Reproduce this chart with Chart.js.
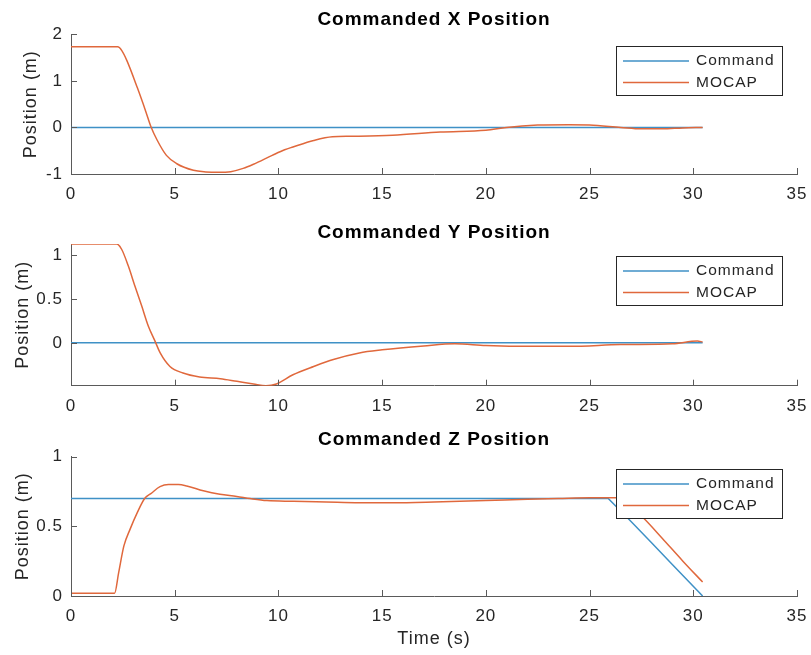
<!DOCTYPE html>
<html>
<head>
<meta charset="utf-8">
<script src="https://cdn.jsdelivr.net/npm/chart.js@4.4.1/dist/chart.umd.min.js"></script>
<style>
  html, body { margin: 0; padding: 0; background: #fff; overflow: hidden; }
  #wrap { position: relative; width: 811px; height: 655px; }
  .panel { position: absolute; left: 0; }
</style>
</head>
<body>
<div id="wrap">
  <canvas id="cx" class="panel" style="top:0px"></canvas>
  <canvas id="cy" class="panel" style="top:211px"></canvas>
  <canvas id="cz" class="panel" style="top:422px"></canvas>
</div>
<script>
// ---- tick labels ----
const timeTicks = [0, 5, 10, 15, 20, 25, 30, 35];
const xPosTicks = [-1, 0, 1, 2];
const yPosTicks = [0, 0.5, 1];
const zPosTicks = [0, 0.5, 1];

// ---- series names and titles ----
const seriesNames = ['Command', 'MOCAP'];
const titles = ['Commanded X Position', 'Commanded Y Position', 'Commanded Z Position'];
const xAxisTitle = 'Time (s)';
const yAxisTitle = 'Position (m)';

// ---- X position (m) ----
const cmdXTime = [0, 30.45];
const cmdXVal  = [0, 0];
const mocapXTime = [0, 2.25, 2.45, 2.7, 3.2, 3.6, 3.85, 4.15, 4.6, 5.1, 5.9, 6.5, 7.1, 7.7, 8.3, 8.8, 9.7, 10.3, 10.7, 11.7, 12.6, 13.5, 15.5, 17.8, 20.0, 21.0, 22.5, 24.0, 25.0, 26.5, 27.5, 28.5, 29.5, 30.45];
const mocapXVal  = [1.73, 1.73, 1.65, 1.43, 0.85, 0.35, 0.02, -0.27, -0.6, -0.78, -0.92, -0.955, -0.965, -0.95, -0.88, -0.79, -0.6, -0.48, -0.42, -0.28, -0.2, -0.19, -0.17, -0.1, -0.06, 0.0, 0.05, 0.06, 0.05, 0.0, -0.03, -0.03, -0.01, 0.0];

// ---- Y position (m) ----
const cmdYTime = [0, 30.45];
const cmdYVal  = [0, 0];
const mocapYTime = [0, 2.2, 2.44, 2.76, 3.08, 3.41, 3.73, 4.05, 4.3, 4.77, 5.4, 6.2, 7.2, 8.0, 8.8, 9.4, 9.9, 10.7, 11.7, 12.65, 13.9, 15.0, 17.0, 18.5, 20.0, 22.3, 24.0, 26.5, 29.0, 30.2, 30.45];
const mocapYVal  = [1.13, 1.13, 1.07, 0.88, 0.65, 0.42, 0.19, 0.02, -0.115, -0.27, -0.345, -0.39, -0.41, -0.44, -0.47, -0.49, -0.47, -0.365, -0.27, -0.19, -0.115, -0.08, -0.035, -0.01, -0.03, -0.04, -0.04, -0.02, -0.01, 0.02, 0.01];

// ---- Z position (m) ----
const cmdZTime = [0, 25.9, 27.0, 28.0, 29.0, 30.45];
const cmdZVal  = [0.7, 0.7, 0.535, 0.38, 0.225, 0.0];
const mocapZTime = [0, 2.1, 2.3, 2.55, 2.85, 3.2, 3.55, 3.85, 4.29, 4.7, 5.18, 5.58, 6.38, 7.18, 7.99, 8.63, 9.44, 10.72, 12.3, 13.9, 15.5, 17.5, 20.0, 22.0, 23.5, 25.0, 26.3, 26.8, 27.6, 28.5, 29.5, 30.45];
const mocapZVal  = [0.02, 0.02, 0.17, 0.36, 0.48, 0.6, 0.7, 0.735, 0.785, 0.80, 0.80, 0.79, 0.755, 0.73, 0.715, 0.70, 0.685, 0.68, 0.675, 0.67, 0.67, 0.675, 0.685, 0.695, 0.70, 0.705, 0.705, 0.67, 0.56, 0.415, 0.25, 0.10];

// ---- styling ----
const FONT = '"Liberation Sans", Arial, Helvetica, sans-serif';
const CMD_COLOR = '#3f91c6';
const MOCAP_COLOR = '#e0683c';
const AXIS_COLOR = '#5a5a5a';
const TEXT_COLOR = '#262626';

Chart.defaults.font.family = FONT;

const pts = (t, v) => t.map((x, i) => ({ x: x, y: v[i] }));
const fmt = v => String(Number(Number(v).toFixed(2)));

// slightly spaced lettering for all chart text
const spacing = {
  id: 'spacing',
  beforeDraw(chart) { chart.ctx.letterSpacing = '1px'; }
};

// tick marks pointing into the axes
const innerTicks = {
  id: 'innerTicks',
  afterDraw(chart) {
    const { ctx, chartArea: ca } = chart;
    const xs = chart.scales.x, ys = chart.scales.y;
    ctx.save();
    ctx.strokeStyle = AXIS_COLOR;
    ctx.lineWidth = 1;
    ctx.beginPath();
    xs.ticks.forEach(t => {
      const px = Math.round(xs.getPixelForValue(t.value)) + 0.5;
      ctx.moveTo(px, ca.bottom);
      ctx.lineTo(px, ca.bottom - 6);
    });
    ys.ticks.forEach(t => {
      const py = Math.round(ys.getPixelForValue(t.value)) + 0.5;
      ctx.moveTo(ca.left, py);
      ctx.lineTo(ca.left + 6, py);
    });
    ctx.stroke();
    ctx.restore();
  }
};

// boxed legend in the upper right corner of the axes
const boxLegend = {
  id: 'boxLegend',
  afterDatasetsDraw(chart) {
    const { ctx, chartArea: ca } = chart;
    const w = 166, h = 49;
    const x0 = Math.round(ca.right - 15 - w), y0 = Math.round(ca.top + 12);
    ctx.save();
    ctx.fillStyle = '#fff';
    ctx.fillRect(x0, y0, w, h);
    ctx.strokeStyle = '#262626';
    ctx.lineWidth = 1;
    ctx.strokeRect(x0 + 0.5, y0 + 0.5, w, h);
    chart.data.datasets.forEach((ds, row) => {
      const yy = y0 + 15 + row * 21.5;
      ctx.strokeStyle = ds.borderColor;
      ctx.lineWidth = ds.borderWidth;
      ctx.beginPath();
      ctx.moveTo(x0 + 7, yy);
      ctx.lineTo(x0 + 73, yy);
      ctx.stroke();
      ctx.fillStyle = TEXT_COLOR;
      ctx.font = '15.5px ' + FONT;
      ctx.textBaseline = 'middle';
      ctx.textAlign = 'left';
      ctx.fillText(ds.label, x0 + 80, yy);
    });
    ctx.restore();
  }
};

const panels = [
  { id: 'cx', height: 211, title: titles[0], cmd: pts(cmdXTime, cmdXVal), mocap: pts(mocapXTime, mocapXVal),
    yMin: -1, yMax: 2, yTicks: xPosTicks, titlePad: { top: 7.9, bottom: 3.6 }, xAxisH: 37, showXTitle: false, yTitlePad: 20.2 },
  { id: 'cy', height: 211, title: titles[1], cmd: pts(cmdYTime, cmdYVal), mocap: pts(mocapYTime, mocapYVal),
    yMin: -0.49, yMax: 1.13, yTicks: yPosTicks, titlePad: { top: 10.2, bottom: 0 }, xAxisH: 36.3, showXTitle: false, yTitlePad: 12 },
  { id: 'cz', height: 233, title: titles[2], cmd: pts(cmdZTime, cmdZVal), mocap: pts(mocapZTime, mocapZVal),
    yMin: 0, yMax: 1, yTicks: zPosTicks, titlePad: { top: 5.9, bottom: 6.0 }, xAxisH: 59, showXTitle: true, yTitlePad: 12 }
];

panels.forEach(p => {
  const canvas = document.getElementById(p.id);
  canvas.width = 811;
  canvas.height = p.height;
  canvas.style.width = '811px';
  canvas.style.height = p.height + 'px';

  new Chart(canvas, {
    type: 'line',
    data: {
      datasets: [
        { label: seriesNames[0], data: p.cmd, borderColor: CMD_COLOR, borderWidth: 1.5,
          pointRadius: 0, fill: false, tension: 0, order: 1 },
        { label: seriesNames[1], data: p.mocap, borderColor: MOCAP_COLOR, borderWidth: 1.5,
          pointRadius: 0, fill: false, cubicInterpolationMode: 'monotone', order: 0 }
      ]
    },
    options: {
      responsive: false,
      animation: false,
      events: [],
      layout: { padding: { left: 0, right: 14, top: 0, bottom: 0 } },
      plugins: {
        legend: { display: false },
        tooltip: { enabled: false },
        title: {
          display: true, text: p.title, fullSize: false, color: '#000',
          font: { size: 19, weight: 'bold', family: FONT, lineHeight: 1.2 },
          padding: p.titlePad
        }
      },
      scales: {
        x: {
          type: 'linear', min: 0, max: 35,
          grid: { display: false, drawTicks: false },
          border: { display: true, color: AXIS_COLOR, width: 1 },
          ticks: { padding: 10, color: TEXT_COLOR, font: { size: 17 }, maxRotation: 0, autoSkip: false, callback: fmt },
          afterBuildTicks: s => { s.ticks = timeTicks.map(v => ({ value: v })); },
          afterFit: s => { s.height = p.xAxisH; s.paddingLeft = 0; s.paddingRight = 0; },
          title: {
            display: p.showXTitle, text: xAxisTitle, color: TEXT_COLOR,
            font: { size: 18, lineHeight: 1.2 }, padding: { top: 0, bottom: 5.2 }
          }
        },
        y: {
          type: 'linear', min: p.yMin, max: p.yMax,
          grid: { display: false, drawTicks: false },
          border: { display: true, color: AXIS_COLOR, width: 1 },
          ticks: { padding: 8, color: TEXT_COLOR, font: { size: 17 }, autoSkip: false, callback: fmt },
          afterBuildTicks: s => { s.ticks = p.yTicks.map(v => ({ value: v })); },
          afterFit: s => { s.width = 71; },
          title: {
            display: true, text: yAxisTitle, color: TEXT_COLOR,
            font: { size: 18, lineHeight: 1.2 }, padding: { top: p.yTitlePad, bottom: 0 }
          }
        }
      }
    },
    plugins: [spacing, innerTicks, boxLegend]
  });
});
</script>
</body>
</html>
